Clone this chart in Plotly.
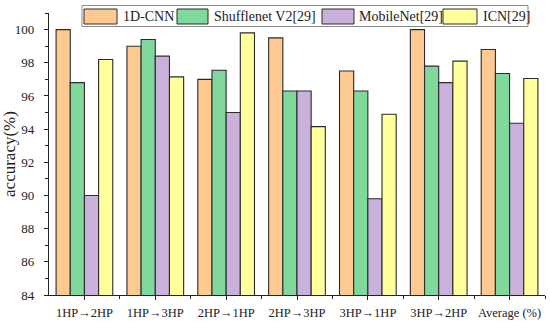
import plotly.graph_objects as go

categories = ["1HP→2HP", "1HP→3HP", "2HP→1HP", "2HP→3HP", "3HP→1HP", "3HP→2HP", "Average (%)"]
series_names = ["1D-CNN", "Shufflenet V2[29]", "MobileNet[29]", "ICN[29]"]
cnn1d = [100.0, 99.0, 97.0, 99.5, 97.5, 100.0, 98.8]
shufflenet = [96.8, 99.4, 97.55, 96.3, 96.3, 97.8, 97.35]
mobilenet = [90.0, 98.4, 95.0, 96.3, 89.8, 96.8, 94.35]
icn = [98.2, 97.15, 99.8, 94.15, 94.9, 98.1, 97.05]
y_ticks = [84, 86, 88, 90, 92, 94, 96, 98, 100]
y_minor = [85, 87, 89, 91, 93, 95, 97, 99, 101]

colors = ["#FFC992", "#80D89C", "#C9B1DB", "#FFFF9C"]
series = [cnn1d, shufflenet, mobilenet, icn]

W, H = 550, 322
L, R, T, B = 49, 5, 13, 27
pw, ph = W - L - R, H - T - B

def px2paper(x, y):
    return (x - L) / pw, (H - B - y) / ph

fig = go.Figure()
xs = list(range(len(categories)))
for name, vals, c in zip(series_names, series, colors):
    fig.add_trace(go.Bar(x=xs, y=vals, name=name,
                         marker=dict(color=c, line=dict(color="#2b2b2b", width=1.1)),
                         showlegend=False))

font = "Liberation Serif, Times New Roman, serif"

shapes = []
annotations = []
x0, y0 = px2paper(82, 5.5)
x1, y1 = px2paper(528, 26.5)
shapes.append(dict(type="rect", xref="paper", yref="paper", x0=x0, x1=x1, y0=y1, y1=y0,
                   line=dict(color="#8a8a8a", width=1), fillcolor="white", layer="above"))
sw = [(84, 117), (177, 208), (322, 354), (443, 477)]
tx = [121, 212, 357, 481]
for (a, b), t, name, c in zip(sw, tx, series_names, colors):
    sx0, sy0 = px2paper(a, 9)
    sx1, sy1 = px2paper(b, 24)
    shapes.append(dict(type="rect", xref="paper", yref="paper", x0=sx0, x1=sx1, y0=sy1, y1=sy0,
                       line=dict(color="#2b2b2b", width=1), fillcolor=c, layer="above"))
    ax, ay = px2paper(t, 16.5)
    annotations.append(dict(xref="paper", yref="paper", x=ax, y=ay, text=name, showarrow=False,
                            xanchor="left", yanchor="middle",
                            font=dict(family=font, size=14, color="#222")))

fig.update_layout(
    width=W, height=H, margin=dict(l=L, r=R, t=T, b=B, autoexpand=False),
    paper_bgcolor="white", plot_bgcolor="white",
    barmode="group", bargap=0.2, bargroupgap=0,
    shapes=shapes, annotations=annotations,
    font=dict(family=font, size=13, color="#222"),
)
fig.update_xaxes(range=[-0.5, len(categories) - 0.5], tickvals=xs, ticktext=categories,
                 showline=True, linecolor="#222", linewidth=1.2, ticks="outside", ticklen=4,
                 tickcolor="#222", showgrid=False, zeroline=False, tickfont=dict(size=12.5),
                 automargin=False, ticklabelstandoff=2,
                 minor=dict(tickvals=[i + 0.5 for i in xs], ticks="outside", ticklen=3, tickcolor="#222"))
fig.update_yaxes(range=[84, 101], tickvals=y_ticks, ticktext=[str(t) for t in y_ticks],
                 showline=True, linecolor="#222", linewidth=1.2, ticks="outside", ticklen=4,
                 tickcolor="#222", showgrid=False, zeroline=False, tickfont=dict(size=13),
                 automargin=False, ticklabelstandoff=7,
                 minor=dict(tickvals=y_minor, ticks="outside", ticklen=2.5, tickcolor="#222"),
                 title=dict(text="accuracy(%)", font=dict(size=17), standoff=2))

fig.write_html("out.html", config={"displayModeBar": False},
               post_script="document.body.style.margin='0';document.body.style.overflow='hidden';")
